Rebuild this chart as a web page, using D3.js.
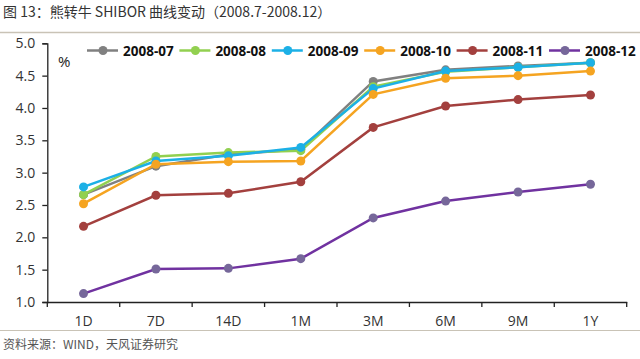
<!DOCTYPE html>
<html><head><meta charset="utf-8">
<script src="https://cdn.jsdelivr.net/npm/d3@7/dist/d3.min.js"></script>
<style>body{margin:0;background:#fff;}svg{display:block;}</style>
</head><body>
<svg id="c" width="640" height="359"></svg>
<script>
const categories = ["1D","7D","14D","1M","3M","6M","9M","1Y"];
const seriesNames = ["2008-07","2008-08","2008-09","2008-10","2008-11","2008-12"];
const s0807 = [2.66,3.10,3.28,3.36,4.41,4.59,4.65,4.70];
const s0808 = [2.66,3.25,3.31,3.34,4.33,4.56,4.63,4.70];
const s0809 = [2.78,3.18,3.26,3.39,4.30,4.57,4.63,4.70];
const s0810 = [2.52,3.13,3.17,3.18,4.21,4.46,4.50,4.57];
const s0811 = [2.17,2.65,2.68,2.86,3.70,4.03,4.13,4.20];
const s0812 = [1.13,1.51,1.52,1.67,2.30,2.56,2.70,2.82];
const yTicks = [1.0,1.5,2.0,2.5,3.0,3.5,4.0,4.5,5.0];

const seriesValues = [s0807,s0808,s0809,s0810,s0811,s0812];
const lineColors = ["#808080","#92d050","#1cb0e6","#f5a421","#a3403e","#7032a0"];
const markColors = ["#808080","#92d050","#1cb0e6","#f5a421","#a3403e","#76679a"];

const svg = d3.select("#c");
const font = "'Open Sans','Noto Sans CJK SC',sans-serif";

// title
svg.append("text").attr("x",3).attr("y",17).attr("font-family","'Noto Sans CJK SC',sans-serif")
  .attr("font-size",14).attr("fill","#333").text("图 13：熊转牛 SHIBOR 曲线变动（2008.7-2008.12）");
svg.append("line").attr("x1",0).attr("x2",640).attr("y1",32.5).attr("y2",32.5).attr("stroke","#c9c3b6").attr("stroke-width",1.5);
svg.append("line").attr("x1",0).attr("x2",640).attr("y1",330.5).attr("y2",330.5).attr("stroke","#c9c3b6").attr("stroke-width",1);
svg.append("text").attr("x",3).attr("y",349).attr("font-family","'Noto Sans CJK SC',sans-serif")
  .attr("font-size",12).attr("fill","#555").text("资料来源：WIND，天风证券研究");

const x = d3.scaleBand().domain(categories).range([47.3,626.7]);
const y = d3.scaleLinear().domain([1,5]).range([302,43.3]);

const yAxis = svg.append("g").attr("transform","translate(47.3,0)")
  .call(d3.axisLeft(y).tickValues(yTicks).tickFormat(d3.format(".1f")).tickSize(5).tickPadding(7));
const xAxis = svg.append("g").attr("transform","translate(0,302)")
  .call(d3.axisBottom(x).tickSize(0).tickPadding(14));
[yAxis,xAxis].forEach(a=>{
  a.selectAll("path").attr("stroke","#222").attr("stroke-width",1.3);
  a.selectAll("line").attr("stroke","#222").attr("stroke-width",1.3);
  a.selectAll("text").attr("font-family",font).attr("font-size",14).attr("fill","#333");
});
// x ticks at band edges
const edges = categories.map(c=>x(c)).concat([x.range()[1]]);
xAxis.selectAll(".edge").data(edges).enter().append("line")
  .attr("x1",d=>d).attr("x2",d=>d).attr("y1",0).attr("y2",5).attr("stroke","#222").attr("stroke-width",1.3);

svg.append("text").attr("x",58).attr("y",67).attr("font-family",font).attr("font-size",15).attr("fill","#222").text("%");

const line = d3.line().x((d,i)=>x(categories[i])+x.bandwidth()/2).y(d=>y(d));
seriesValues.forEach((vals,k)=>{
  const g = svg.append("g");
  g.append("path").datum(vals).attr("d",line).attr("fill","none")
    .attr("stroke",lineColors[k]).attr("stroke-width",2.5);
  g.selectAll("circle").data(vals).enter().append("circle")
    .attr("cx",(d,i)=>x(categories[i])+x.bandwidth()/2).attr("cy",d=>y(d)).attr("r",4.5)
    .attr("fill",markColors[k]);
});

// legend
const lg = svg.append("g");
seriesNames.forEach((n,k)=>{
  const x0 = 87 + k*92.4;
  lg.append("line").attr("x1",x0).attr("x2",x0+31).attr("y1",50.5).attr("y2",50.5)
    .attr("stroke",lineColors[k]).attr("stroke-width",2.5);
  lg.append("circle").attr("cx",x0+16).attr("cy",50.5).attr("r",4.5).attr("fill",markColors[k]);
  lg.append("text").attr("x",x0+36).attr("y",55.5).attr("font-family",font).attr("font-size",13.5)
    .attr("font-weight","bold").attr("fill","#111").text(n);
});
</script>
</body></html>
